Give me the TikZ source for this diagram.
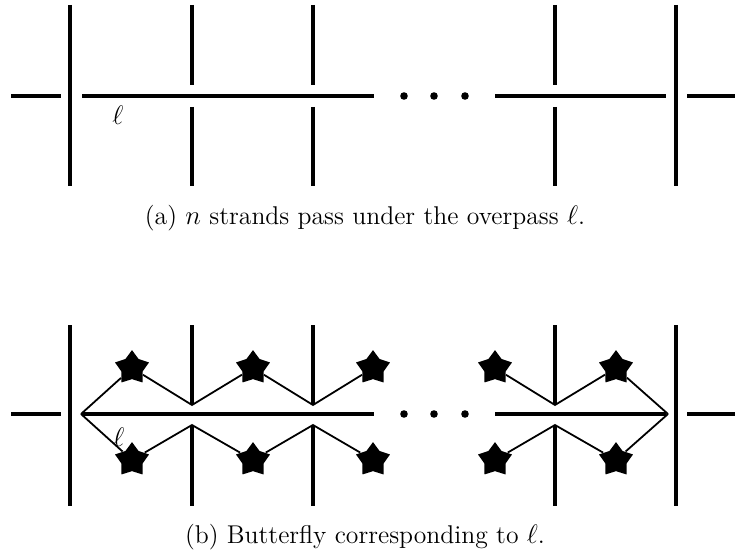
\documentclass[tikz,border=0pt]{standalone}
\usetikzlibrary{shapes.geometric}
\begin{document}
\begin{tikzpicture}[x=0.448pt,y=-0.448pt,
  every node/.style={font=\fontsize{11.5pt}{14pt}\selectfont},
  strand/.style={line width=1.4pt},
  wing/.style={line width=0.8pt},
  bstar/.style={star,star points=5,star point ratio=1.6,fill=black,inner sep=0pt,minimum size=16pt},
  dot/.style={circle,fill=black,inner sep=0pt,minimum size=3.4pt}]
  \useasboundingbox (0,0) rectangle (735,552);
  % (a) strands under the overpass
  \draw[strand] (11,96) -- (61,96) (687,96) -- (735,96);
  \draw[strand] (82,96) -- (374,96) (495,96) -- (666,96);
  \draw[strand] (70,5) -- (70,186) (676,5) -- (676,186);
  \foreach \x in {192,313,555}
    \draw[strand] (\x,5) -- (\x,85) (\x,107) -- (\x,186);
  \foreach \x [count=\i] in {404,434,465}
    \node[dot] (da\i) at (\x,96) {};
  \node (la) at (118,115) {$\ell$};
  \node (capa) at (365,218) {(a) $n$ strands pass under the overpass $\ell$.};

  % (b) butterfly
  \draw[strand] (11,414) -- (61,414) (687,414) -- (735,414);
  \draw[strand] (82,414) -- (374,414) (495,414) -- (666,414);
  \draw[strand] (70,325) -- (70,506) (676,325) -- (676,506);
  \foreach \x in {192,313,555}
    \draw[strand] (\x,325) -- (\x,405) (\x,425) -- (\x,506);
  \foreach \x [count=\i] in {404,434,465}
    \node[dot] (db\i) at (\x,414) {};
  \foreach \x [count=\i] in {132,253,373,495,616} {
    \node[bstar] (su\i) at (\x,368) {};
    \node[bstar] (sl\i) at (\x,460) {};
  }
  \coordinate (wl) at (81,414);
  \coordinate (wr) at (668,414);
  \foreach \x [count=\i] in {192,313,555} {
    \coordinate (au\i) at (\x,405);
    \coordinate (al\i) at (\x,425);
  }
  \draw[wing] (wl) -- (su1) -- (au1) -- (su2) -- (au2) -- (su3);
  \draw[wing] (su4) -- (au3) -- (su5) -- (wr);
  \draw[wing] (wl) -- (sl1) -- (al1) -- (sl2) -- (al2) -- (sl3);
  \draw[wing] (sl4) -- (al3) -- (sl5) -- (wr);
  \node (lb) at (119,437) {$\ell$};
  \node (capb) at (365,537) {(b) Butterfly corresponding to $\ell$.};
\end{tikzpicture}
\end{document}
